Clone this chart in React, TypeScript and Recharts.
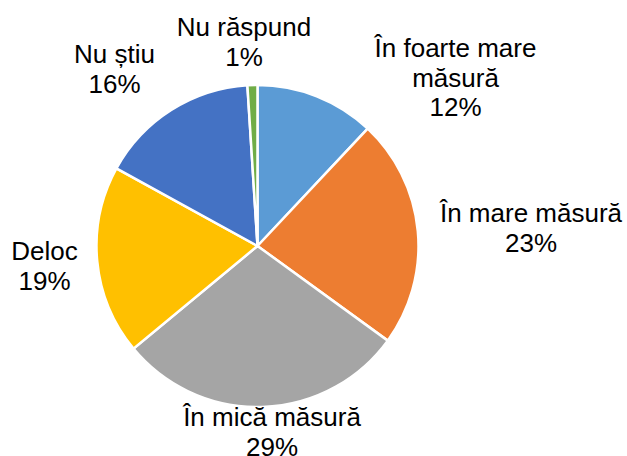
import React from "react";
import { PieChart, Pie, Cell } from "recharts";

const categories = [
  "În foarte mare\nmăsură",
  "În mare măsură",
  "În mică măsură",
  "Deloc",
  "Nu știu",
  "Nu răspund",
];
const values = [12, 23, 29, 19, 16, 1];
const colors = ["#5B9BD5", "#ED7D31", "#A5A5A5", "#FFC000", "#4472C4", "#70AD47"];

const data = categories.map((name, i) => ({ name, value: values[i] }));

// label placement relative to pie center (first baseline), layout only
const labelOffsets: [number, number][] = [
  [198, -189],
  [273.5, -24],
  [14.5, 180],
  [-213, 14],
  [-143, -183],
  [-13.5, -210],
];

const FONT = "'Liberation Sans', Arial, sans-serif";
const FONT_SIZE = 26;
const LINE = 29.7;

const renderLabel = (props: any) => {
  const { cx, cy, index, value } = props;
  const [dx, dy] = labelOffsets[index];
  const lines = [...categories[index].split("\n"), `${value}%`];
  return (
    <text
      x={cx + dx}
      y={cy + dy}
      textAnchor="middle"
      fill="#000000"
      fontFamily={FONT}
      fontSize={FONT_SIZE}
    >
      {lines.map((l, k) => (
        <tspan key={k} x={cx + dx} y={cy + dy + k * LINE}>
          {l}
        </tspan>
      ))}
    </text>
  );
};

export default function App() {
  return (
    <div style={{ position: "absolute", left: 0, top: 0, background: "#fff" }}>
      <PieChart width={627} height={456} margin={{ top: 0, right: 0, bottom: 0, left: 0 }}>
        <Pie
          data={data}
          dataKey="value"
          nameKey="name"
          cx={257.5}
          cy={246}
          outerRadius={161}
          startAngle={90}
          endAngle={-270}
          stroke="#FFFFFF"
          strokeWidth={2.5}
          label={renderLabel}
          labelLine={false}
          isAnimationActive={false}
        >
          {data.map((d, i) => (
            <Cell key={d.name} fill={colors[i]} />
          ))}
        </Pie>
      </PieChart>
    </div>
  );
}
